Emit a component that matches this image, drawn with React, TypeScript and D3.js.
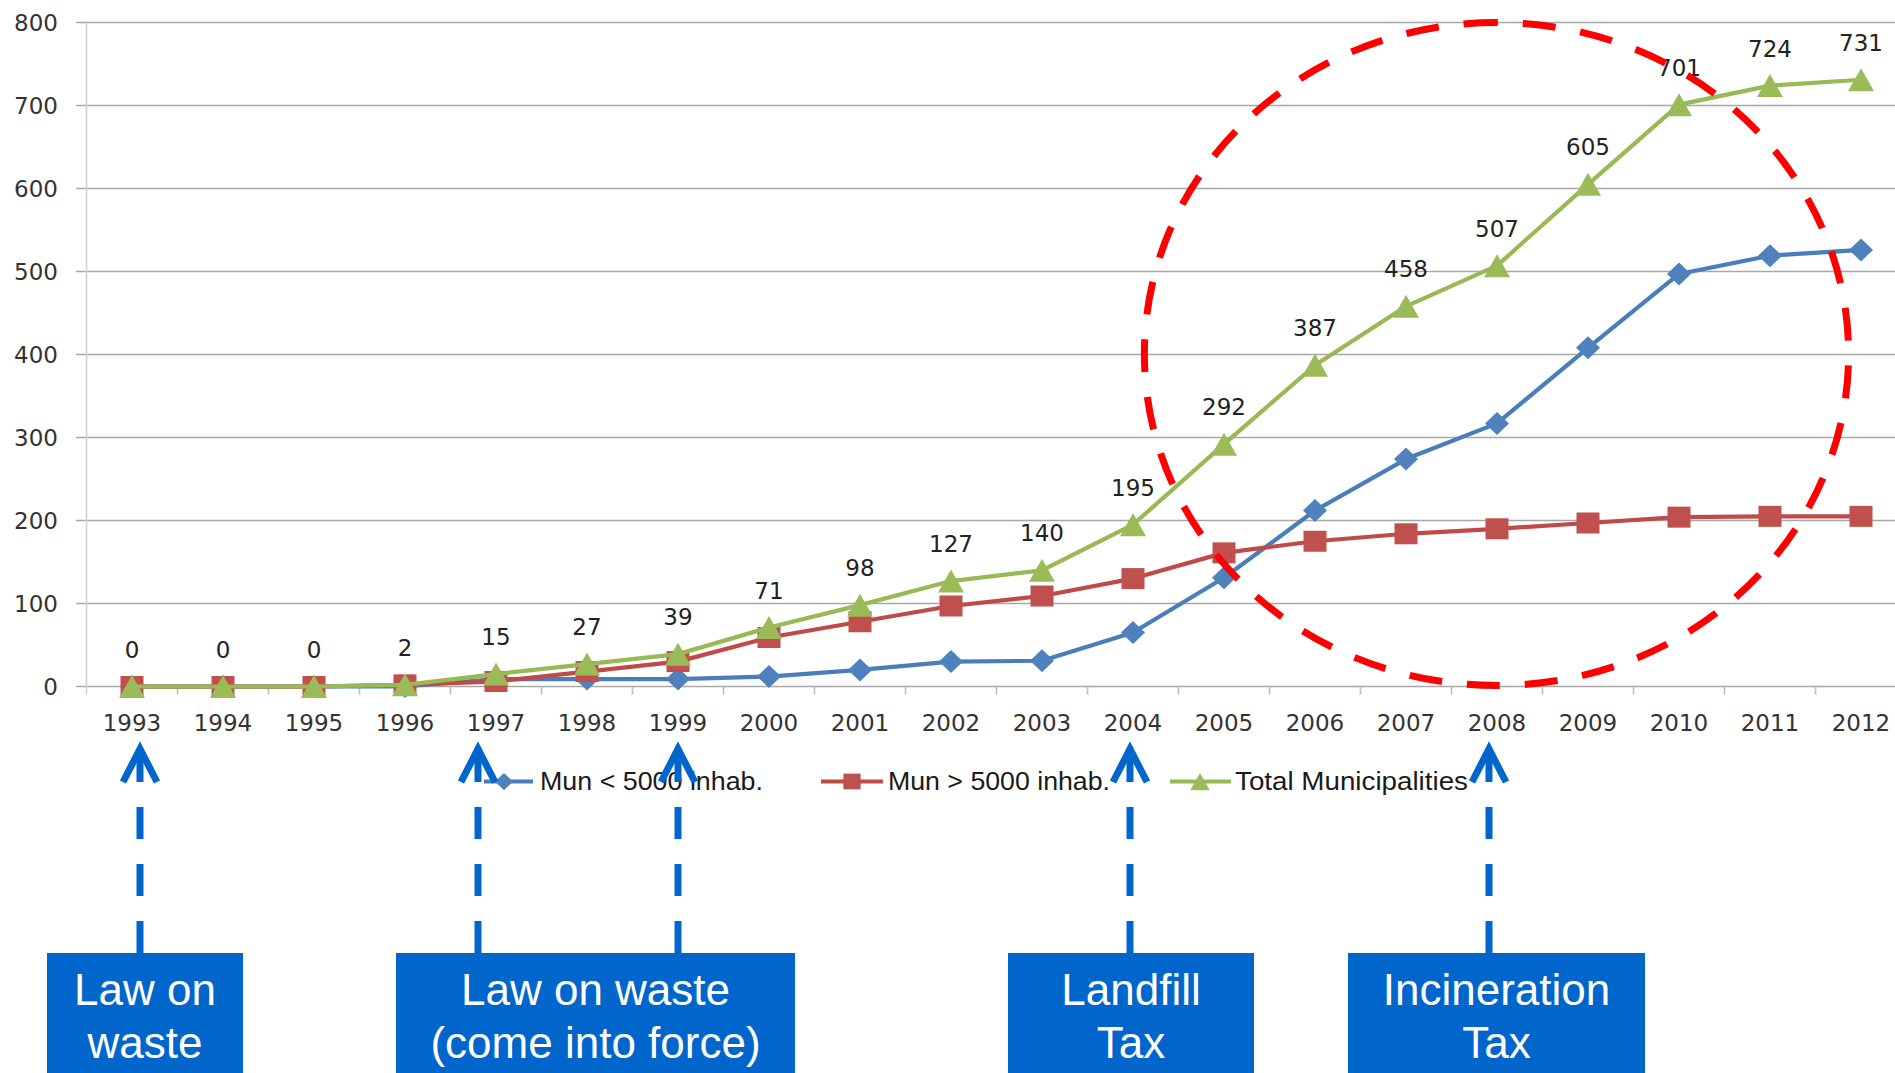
import React from "react";
import * as d3 from "d3";

// Municipalities with separate collection, 1993–2012
const years = [1993, 1994, 1995, 1996, 1997, 1998, 1999, 2000, 2001, 2002, 2003, 2004, 2005, 2006, 2007, 2008, 2009, 2010, 2011, 2012];
const munSmall = [0, 0, 0, 0, 9, 9, 9, 12, 20, 30, 31, 65, 131, 212, 274, 317, 408, 497, 519, 526];
const munLarge = [0, 0, 0, 2, 6, 18, 30, 59, 78, 97, 109, 130, 161, 175, 184, 190, 197, 204, 205, 205];
const munTotal = [0, 0, 0, 2, 15, 27, 39, 71, 98, 127, 140, 195, 292, 387, 458, 507, 605, 701, 724, 731];
const yTicks = [0, 100, 200, 300, 400, 500, 600, 700, 800];

const seriesNames = ["Mun < 5000 inhab.", "Mun > 5000 inhab.", "Total Municipalities"];

// Policy milestones: arrow years and the boxes they point from
const arrowYears = [1993, 1997, 1999, 2004, 2008];
const policyLabels = [
  ["Law on", "waste"],
  ["Law on waste", "(come into force)"],
  ["Landfill", "Tax"],
  ["Incineration", "Tax"],
];

const W = 1895;
const H = 1073;
const left = 86.5;
const step = 91;
const top = 22.5;
const bottom = 686.5;

const x = d3.scaleBand<number>().domain(years).range([left, left + step * years.length]).padding(0);
const cx = (yr: number) => (x(yr) as number) + x.bandwidth() / 2;
const y = d3.scaleLinear().domain([0, 800]).range([bottom, top]);

const lineColors = ["#4A7EBB", "#BE4B48", "#98B954"];
const markColors = ["#4F81BD", "#C0504D", "#9BBB59"];

function Marker({ kind, color, s = 1 }: { kind: number; color: string; s?: number }) {
  if (kind === 0) return <path d={`M0,${-11.5 * s}L${12 * s},0L0,${11.5 * s}L${-12 * s},0Z`} fill={color} />;
  if (kind === 1) return <rect x={-11.5 * s} y={-10.5 * s} width={23 * s} height={21 * s} fill={color} />;
  return <path d={`M0,${-11.5 * s}L${13 * s},${11.5 * s}L${-13 * s},${11.5 * s}Z`} fill={color} />;
}

// Box geometry for the milestone labels
const boxes = [
  { x0: 47, x1: 243 },
  { x0: 396, x1: 795 },
  { x0: 1008, x1: 1254 },
  { x0: 1348, x1: 1645 },
];
const arrowOffsets = [8, -18, 0, -3, -8];

const legendItems = [
  { lineX0: 484, lineX1: 533, mark: 504, textX: 540, len: 223 },
  { lineX0: 821, lineX1: 883, mark: 852, textX: 888, len: 222 },
  { lineX0: 1170, lineX1: 1231, mark: 1200, textX: 1235, len: 233 },
];

export default function App() {
  const series = [munSmall, munLarge, munTotal];
  const line = d3
    .line<number>()
    .x((_, i) => cx(years[i]))
    .y((v) => y(v));

  // Ellipse highlighting 2005–2012, traced counter-clockwise from its top
  const ex = 1496.5, ey = 354, erx = 352, ery = 331.5;
  const ellipsePath = `M${ex},${ey - ery}A${erx},${ery} 0 1 0 ${ex},${ey + ery}A${erx},${ery} 0 1 0 ${ex},${ey - ery}`;

  const axisFont = "'DejaVu Sans', sans-serif";
  const boxBlue = "#0066CC";

  return (
    <svg width={W} height={H} style={{ position: "absolute", left: 0, top: 0, display: "block", background: "#fff" }}>
      {/* gridlines */}
      {yTicks.map((t) => (
        <line key={t} x1={76} x2={W} y1={y(t)} y2={y(t)} stroke="#A8A8A8" strokeWidth={1.6} />
      ))}
      {/* value axis */}
      <line x1={left} x2={left} y1={top} y2={bottom + 8} stroke="#D0D0D0" strokeWidth={1.6} />
      {/* category ticks */}
      {years.map((yr, i) => (
        <line key={yr} x1={left + step * (i + 1)} x2={left + step * (i + 1)} y1={bottom} y2={bottom + 8} stroke="#BDBDBD" strokeWidth={1.6} />
      ))}
      {yTicks.map((t) => (
        <text key={t} x={58} y={y(t) + 8} textAnchor="end" fontFamily={axisFont} fontSize={23} fill="#333">
          {t}
        </text>
      ))}
      {years.map((yr) => (
        <text key={yr} x={cx(yr)} y={731} textAnchor="middle" fontFamily={axisFont} fontSize={23} fill="#333">
          {yr}
        </text>
      ))}

      {/* series */}
      {series.map((vals, si) => (
        <g key={si}>
          <path d={line(vals) as string} fill="none" stroke={lineColors[si]} strokeWidth={4.2} strokeLinejoin="round" />
          {vals.map((v, i) => (
            <g key={i} transform={`translate(${cx(years[i])},${y(v)})`}>
              <Marker kind={si} color={markColors[si]} />
            </g>
          ))}
        </g>
      ))}

      {/* total labels */}
      {munTotal.map((v, i) => (
        <text key={i} x={cx(years[i])} y={y(v) - 29} textAnchor="middle" fontFamily={axisFont} fontSize={23} fill="#222">
          {v}
        </text>
      ))}

      <path d={ellipsePath} fill="none" stroke="#FF0000" strokeWidth={7} strokeDasharray="33 25" />

      {/* legend */}
      {legendItems.map((it, i) => (
        <g key={i}>
          <line x1={it.lineX0} x2={it.lineX1} y1={781.5} y2={781.5} stroke={lineColors[i]} strokeWidth={4} />
          <g transform={`translate(${it.mark},781.5)`}>
            <Marker kind={i} color={markColors[i]} s={0.75} />
          </g>
          <text x={it.textX} y={790} fontFamily="'Liberation Sans Narrow', 'Liberation Sans', sans-serif" fontSize={25} fill="#1a1a1a" textLength={it.len} lengthAdjust="spacingAndGlyphs">
            {seriesNames[i]}
          </text>
        </g>
      ))}

      {/* milestone arrows */}
      {arrowYears.map((yr, i) => {
        const ax = cx(yr) + arrowOffsets[i];
        return (
          <g key={yr} stroke={boxBlue} strokeWidth={7} fill="none">
            <line x1={ax} x2={ax} y1={953} y2={750} strokeDasharray="32 25" />
            <polyline points={`${ax - 17},782 ${ax},749 ${ax + 17},782`} strokeLinejoin="miter" />
          </g>
        );
      })}

      {/* milestone boxes */}
      {boxes.map((b, i) => {
        const mid = (b.x0 + b.x1) / 2;
        return (
          <g key={i}>
            <rect x={b.x0} y={953} width={b.x1 - b.x0} height={H - 953 + 10} fill={boxBlue} />
            {policyLabels[i].map((s, j) => (
              <text key={j} x={mid} y={1005 + j * 53} textAnchor="middle" fontFamily="'Liberation Sans', Arial, sans-serif" fontSize={44} fill="#fff">
                {s}
              </text>
            ))}
          </g>
        );
      })}
    </svg>
  );
}
